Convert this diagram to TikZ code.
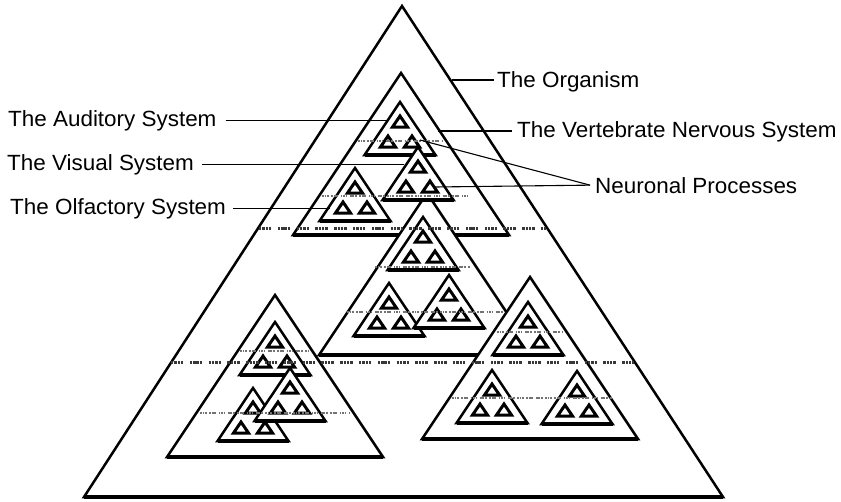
\documentclass[tikz,border=0pt]{standalone}
\usepackage{fontspec}
\setmainfont{Liberation Sans}[FakeStretch=1.02]
\begin{document}
\begin{tikzpicture}[x=1pt,y=-1pt,
  tri/.style={draw=black, line width=2.5pt, fill=white},
  tribase/.style={draw=black, line width=3.6pt},
  minitri/.style={draw=black, line width=3pt, fill=white},
  bigdash/.style={draw=black!78, line width=3pt,
    dash pattern=on 2.4pt off 0.9pt on 2.4pt off 0.9pt on 2.4pt off 0.9pt on 2.4pt off 6.5pt},
  smalldash/.style={draw=black!55, line width=1.5pt,
    dash pattern=on 1.8pt off 0.7pt on 1.8pt off 0.7pt on 1.8pt off 2.5pt},
  leader/.style={draw=black, line width=1.1pt},
  lbl/.style={font=\fontsize{22}{26}\selectfont, anchor=base west, inner sep=0pt},
  neuro/.pic={
    \path[tri] (0,0) -- (-35.5,53) -- (35.5,53) -- cycle;
    \draw[tribase] (-35.5,53) -- (35.5,53);
    \foreach \mx/\my in {0/20,-12/40,12/40}
      \path[minitri] (\mx,\my-6) -- (\mx+7.5,\my+5) -- (\mx-7.5,\my+5) -- cycle;
  },
  system/.pic={
    \path[tri] (0,0) -- (-108,162) -- (108,162) -- cycle;
    \draw[tribase] (-108,162) -- (108,162);
  }
]
\useasboundingbox (0,0) rectangle (841,501);
\fill[white] (0,0) rectangle (841,501);

% the organism
\path[tri] (402,6) -- (84,497) -- (723,497) -- cycle;
\draw[tribase] (84,497) -- (723,497);

% vertebrate nervous system
\pic at (401,73) {system};
% middle system
\pic at (427,193) {system};
% sub-systems of the vertebrate nervous system
\pic at (400,102) {neuro};
\pic at (418,147) {neuro};
\pic at (355,168) {neuro};
% sub-systems of the middle system
\pic at (423,217) {neuro};
\pic at (389,283) {neuro};
\pic at (449,275) {neuro};

% lower-left system
\pic at (275,295) {system};
\pic at (275,322) {neuro};
\pic at (253,388) {neuro};
\pic at (290,368) {neuro};

% lower-right system
\pic at (530,277) {system};
\pic at (528,302) {neuro};
\pic at (492,370) {neuro};
\pic at (577,371) {neuro};

% fine dashed lines (neuronal level)
\draw[smalldash] (358,141) -- (442,141);
\draw[smalldash] (322,196) -- (470,196);
\draw[smalldash] (375,267) -- (470,267);
\draw[smalldash] (347,312) -- (503,312);
\draw[smalldash] (240,351) -- (308,351);
\draw[smalldash] (200,413) -- (350,413);
\draw[smalldash] (497,332) -- (563,332);
\draw[smalldash] (452,398) -- (612,398);

% heavy dashed lines (system level)
\draw[bigdash] (259,228) -- (546,228);
\draw[bigdash] (171,362) -- (634,362);

% labels
\node[lbl] (org) at (497,87) {The Organism};
\node[lbl] (vns) at (517,137) {The Vertebrate Nervous System};
\node[lbl] (neu) at (595,193) {Neuronal Processes};
\node[lbl] (aud) at (8,126) {The Auditory System};
\node[lbl] (vis) at (7,170) {The Visual System};
\node[lbl] (olf) at (10,214) {The Olfactory System};

% leader end points
\coordinate (orgE) at (452,80);
\coordinate (vnsE) at (438,131);
\coordinate (neuA) at (420,140);
\coordinate (neuB) at (435,187);
\coordinate (audE) at (388,120);
\coordinate (visE) at (404,163);
\coordinate (olfE) at (330,207);

\draw[leader] (orgE) -- ([xshift=-3pt]org.west |- orgE);
\draw[leader] (vnsE) -- ([xshift=-5pt]vns.west |- vnsE);
\draw[leader] (neuA) -- ([xshift=-5pt]neu.west);
\draw[leader] (neuB) -- ([xshift=-5pt]neu.west);
\draw[leader] ([xshift=9pt]aud.east) -- (aud.east -| audE);
\draw[leader] ([xshift=8pt]vis.east) -- (vis.east -| visE);
\draw[leader] ([xshift=7pt]olf.east) -- (olf.east -| olfE);
\end{tikzpicture}
\end{document}
